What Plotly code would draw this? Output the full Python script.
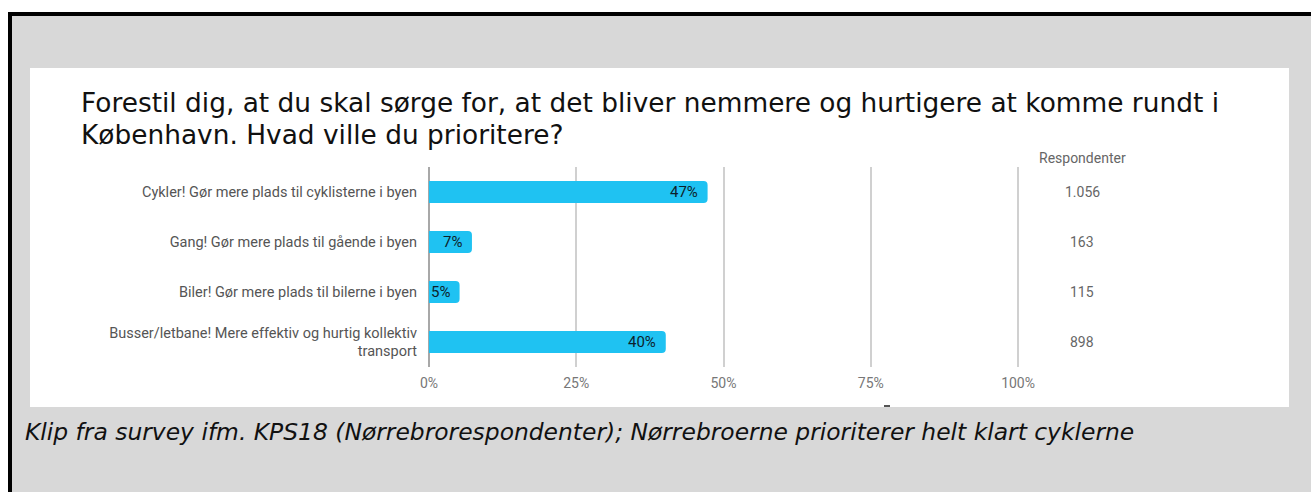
import plotly.graph_objects as go

categories = [
    "Cykler! Gør mere plads til cyklisterne i byen",
    "Gang! Gør mere plads til gående i byen",
    "Biler! Gør mere plads til bilerne i byen",
    "Busser/letbane! Mere effektiv og hurtig kollektiv<br>transport",
]
percent = [47.3, 7.3, 5.2, 40.2]
pct_labels = ["47%", "7%", "5%", "40%"]
respondents = ["1.056", "163", "115", "898"]
x_ticks = [0, 25, 50, 75, 100]
x_ticktext = ["0%", "25%", "50%", "75%", "100%"]

title_line1 = "Forestil dig, at du skal sørge for, at det bliver nemmere og hurtigere at komme rundt i"
title_line2 = "København. Hvad ville du prioritere?"
resp_header = "Respondenter"
caption = "Klip fra survey ifm. KPS18 (Nørrebrorespondenter); Nørrebroerne prioriterer helt klart cyklerne"

W, H = 1311, 492
ML, MR, MT, MB = 426, 290, 167, 125
PW = W - ML - MR
PH = H - MT - MB


def px(x):
    return (x - ML) / PW


def py(y):
    return (H - MB - y) / PH


fig = go.Figure()
fig.add_trace(go.Bar(
    x=percent, y=categories, orientation="h",
    marker=dict(color="#1fc2f2", line=dict(width=0)),
    hoverinfo="skip",
))

shapes = []


def rect(x0, y0, x1, y1, color):
    shapes.append(dict(type="rect", xref="paper", yref="paper",
                       x0=px(x0), x1=px(x1), y0=py(y0), y1=py(y1),
                       fillcolor=color, line=dict(width=0), layer="below"))


rect(0, 0, W, 12, "white")
rect(0, 0, 8, H, "white")
rect(8, 12, W, 16, "black")
rect(8, 12, 12, H, "black")
rect(30, 68, 1289, 407, "white")
rect(884, 405, 890, 407, "#555555")

annotations = []
annotations.append(dict(text=title_line1, xref="paper", yref="paper",
                        x=px(79), y=py(103), xanchor="left", yanchor="middle",
                        showarrow=False, font=dict(family="DejaVu Sans", size=26.4, color="#111111")))
annotations.append(dict(text=title_line2, xref="paper", yref="paper",
                        x=px(79), y=py(134), xanchor="left", yanchor="middle",
                        showarrow=False, font=dict(family="DejaVu Sans", size=26.4, color="#111111")))
annotations.append(dict(text=resp_header, xref="paper", yref="paper",
                        x=px(1082), y=py(158), xanchor="center", yanchor="middle",
                        showarrow=False, font=dict(family="Roboto", size=14, color="#666666")))
for cat, r in zip(categories, respondents):
    annotations.append(dict(text=r, xref="paper", yref="y", x=px(1082), y=cat,
                            xanchor="center", yanchor="middle", showarrow=False,
                            font=dict(family="Roboto", size=14, color="#666666")))
for cat, v, lab in zip(categories, percent, pct_labels):
    annotations.append(dict(text=lab, xref="x", yref="y", x=v, y=cat,
                            xanchor="right", yanchor="middle", xshift=-8, showarrow=False,
                            font=dict(family="Roboto", size=15, color="#0d1f2b")))
annotations.append(dict(text="<i>" + caption + "</i>", xref="paper", yref="paper",
                        x=px(23), y=py(432), xanchor="left", yanchor="middle",
                        showarrow=False, font=dict(family="DejaVu Sans", size=23.4, color="#111111")))

fig.update_layout(
    width=W, height=H,
    margin=dict(l=ML, r=MR, t=MT, b=MB, pad=0),
    paper_bgcolor="#d8d8d8",
    plot_bgcolor="rgba(0,0,0,0)",
    showlegend=False,
    bargap=0.56,
    barcornerradius=4,
    shapes=shapes,
    annotations=annotations,
    xaxis=dict(range=[-0.5, 100.5], tickvals=x_ticks, ticktext=x_ticktext,
               showgrid=True, gridcolor="#d0d0d0", gridwidth=2,
               zeroline=True, zerolinecolor="#a8a8a8", zerolinewidth=2,
               showline=False, ticks="", ticklabelstandoff=6,
               tickfont=dict(family="Roboto", size=14, color="#777777"),
               fixedrange=True),
    yaxis=dict(autorange="reversed", showgrid=False, zeroline=False, showline=False,
               ticks="", ticklabelstandoff=8,
               tickfont=dict(family="Roboto", size=14.5, color="#555555"),
               fixedrange=True),
)

fig.write_html("out.html", config={"displayModeBar": False},
               post_script="document.body.style.margin='0';document.body.style.overflow='hidden';")
